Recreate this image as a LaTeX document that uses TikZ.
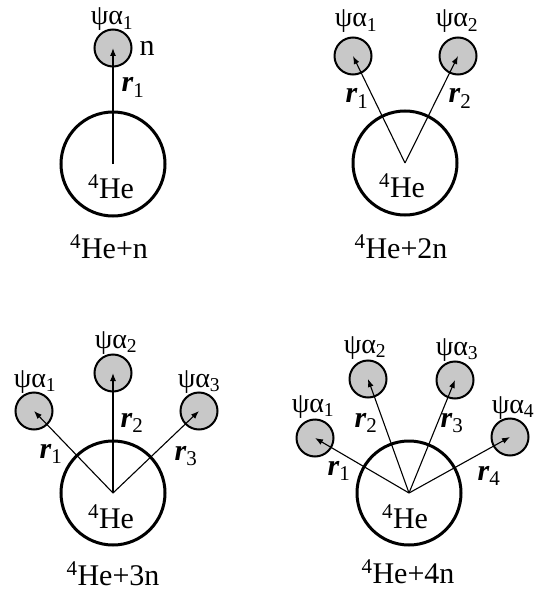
\documentclass[tikz,border=0pt]{standalone}
\usepackage{fontspec}
\setmainfont{Liberation Serif}
\usetikzlibrary{arrows.meta}
\definecolor{NeutronGray}{HTML}{C8C8C8}
\newcommand{\wfn}[1]{ψα\textsubscript{#1}}
\newcommand{\rvec}[1]{\textbf{\textit{r}}\textsubscript{#1}}
\newcommand{\heliumfour}{\textsuperscript{4}He}
\tikzset{
  nucleus/.style={circle,draw,line width=3pt,minimum size=104pt,inner sep=0pt},
  neutron/.style={circle,draw,fill=NeutronGray,line width=2pt,minimum size=37pt,inner sep=0pt},
  jacobi/.style={-{Latex[length=8pt,width=6pt]},line width=1.1pt},
  wflabel/.style={anchor=base,font=\fontsize{28}{32}\selectfont},
  rlabel/.style={anchor=base,font=\fontsize{30}{34}\selectfont},
  helabel/.style={anchor=base,font=\fontsize{30}{34}\selectfont}
}

\begin{document}
\begin{tikzpicture}[x=1pt,y=-1pt]
  \useasboundingbox (0,0) rectangle (541,596);

  % 4He + n
  \node[nucleus] (he1) at (113,164) {};
  \node[neutron] (n11) at (113,48) {};
  \draw[jacobi] (he1.center) -- (n11.center);
  \node[wflabel] (w11) at (112,25) {\wfn{1}};
  \node[helabel] (nn1) at (147,56) {n};
  \node[rlabel] (r11) at (133,92) {\rvec{1}};
  \node[helabel] (in1) at (111,198) {\heliumfour};
  \node[helabel] (cap1) at (109,258) {\heliumfour+n};

  % 4He + 2n
  \node[nucleus] (he2) at (405,163) {};
  \node[neutron] (n21) at (353,56) {};
  \node[neutron] (n22) at (458,56) {};
  \draw[jacobi] (he2.center) -- (n21.center);
  \draw[jacobi] (he2.center) -- (n22.center);
  \node[wflabel] (w21) at (356,27) {\wfn{1}};
  \node[wflabel] (w22) at (457,27) {\wfn{2}};
  \node[rlabel] (r21) at (357,103) {\rvec{1}};
  \node[rlabel] (r22) at (460,103) {\rvec{2}};
  \node[helabel] (in2) at (402,197) {\heliumfour};
  \node[helabel] (cap2) at (401,258) {\heliumfour+2n};

  % 4He + 3n
  \node[nucleus] (he3) at (113,493) {};
  \node[neutron] (n31) at (34,411) {};
  \node[neutron] (n32) at (113,373) {};
  \node[neutron] (n33) at (199,411) {};
  \draw[jacobi] (he3.center) -- (n31.center);
  \draw[jacobi] (he3.center) -- (n32.center);
  \draw[jacobi] (he3.center) -- (n33.center);
  \node[wflabel] (w31) at (35,387) {\wfn{1}};
  \node[wflabel] (w32) at (116,348) {\wfn{2}};
  \node[wflabel] (w33) at (199,387) {\wfn{3}};
  \node[rlabel] (r31) at (51,458) {\rvec{1}};
  \node[rlabel] (r32) at (132,427) {\rvec{2}};
  \node[rlabel] (r33) at (186,460) {\rvec{3}};
  \node[helabel] (in3) at (111,528) {\heliumfour};
  \node[helabel] (cap3) at (113,585) {\heliumfour+3n};

  % 4He + 4n
  \node[nucleus] (he4) at (409,493) {};
  \node[neutron] (n41) at (315,438) {};
  \node[neutron] (n42) at (368,379) {};
  \node[neutron] (n43) at (455,380) {};
  \node[neutron] (n44) at (510,437) {};
  \draw[jacobi] (he4.center) -- (n41.center);
  \draw[jacobi] (he4.center) -- (n42.center);
  \draw[jacobi] (he4.center) -- (n43.center);
  \draw[jacobi] (he4.center) -- (n44.center);
  \node[wflabel] (w41) at (313,412) {\wfn{1}};
  \node[wflabel] (w42) at (365,353) {\wfn{2}};
  \node[wflabel] (w43) at (457,355) {\wfn{3}};
  \node[wflabel] (w44) at (513,413) {\wfn{4}};
  \node[rlabel] (r41) at (339,475) {\rvec{1}};
  \node[rlabel] (r42) at (366,427) {\rvec{2}};
  \node[rlabel] (r43) at (452,427) {\rvec{3}};
  \node[rlabel] (r44) at (489,480) {\rvec{4}};
  \node[helabel] (in4) at (405,528) {\heliumfour};
  \node[helabel] (cap4) at (408,583) {\heliumfour+4n};
\end{tikzpicture}
\end{document}
